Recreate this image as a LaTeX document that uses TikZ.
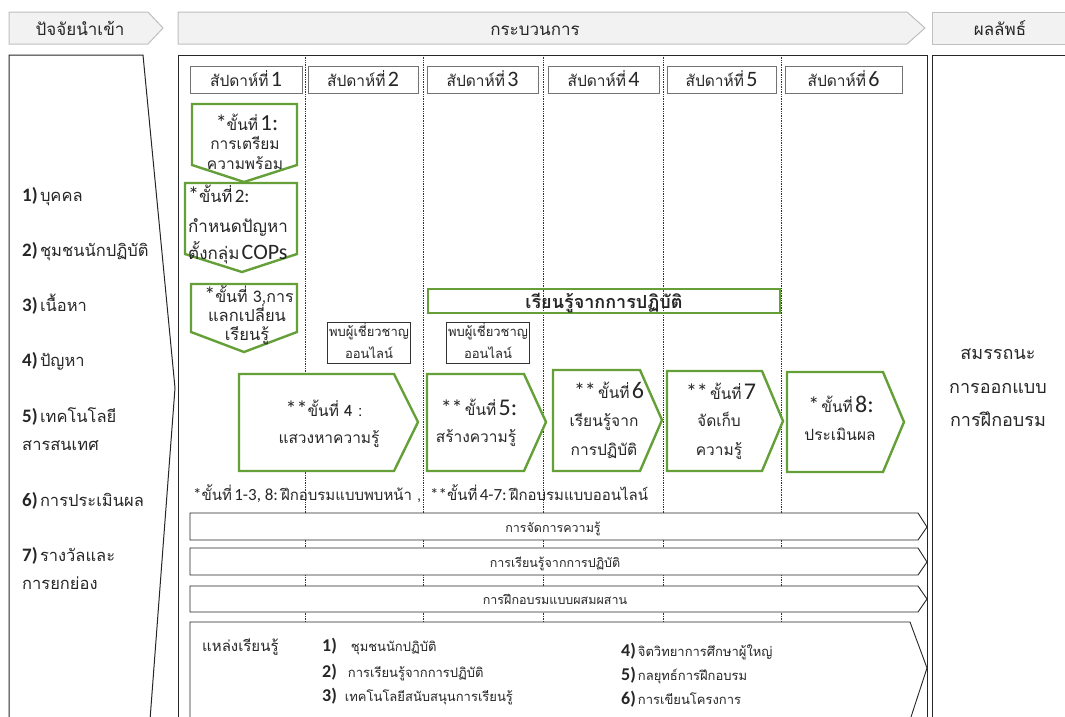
\documentclass[tikz,border=0pt]{standalone}
\usepackage{fontspec}
\setmainfont{Carlito}
\newfontfamily\thaifont[Script=Thai]{Loma}
\newcommand\tth[2]{{\thaifont\fontsize{#1}{#1}\selectfont #2}}
\newcommand\tthb[2]{{\thaifont\bfseries\fontsize{#1}{#1}\selectfont #2}}
\newcommand\lat[2]{{\fontsize{#1}{#1}\selectfont #2}}
\newcommand\latb[2]{{\bfseries\fontsize{#1}{#1}\selectfont #2}}
\definecolor{stepgreen}{RGB}{100,160,55}
\definecolor{hdrfill}{RGB}{242,242,242}
\definecolor{hdrline}{RGB}{191,191,191}
\definecolor{inktext}{RGB}{38,38,38}
\begin{document}
\begin{tikzpicture}[x=1pt,y=-1pt,
  hdr/.style={fill=hdrfill,draw=hdrline,line width=1pt},
  panel/.style={draw=black!85,line width=1pt},
  weekbox/.style={draw=black!55,line width=1pt,fill=white,inner sep=0pt,minimum width=#1pt,minimum height=27pt},
  stepbox/.style={draw=stepgreen,line width=2.4pt,fill=white,line join=miter},
  sep/.style={densely dotted,black!80,line width=0.7pt},
  bar/.style={draw=black!85,line width=0.9pt,fill=white},
  smallbox/.style={draw=black!80,line width=0.9pt,fill=white,inner sep=0pt,minimum width=83pt,minimum height=41pt},
  txt/.style={inner sep=0pt,anchor=base,text=inktext},
  txtw/.style={inner sep=0pt,anchor=base west,text=inktext}]
\useasboundingbox (0,0) rectangle (1065,716);
\clip (0,0) rectangle (1065,716);

% column headers
\path[hdr] (9,12) -- (148,12) -- (163,28) -- (148,44) -- (9,44) -- cycle;
\path[hdr] (178,12) -- (907,12) -- (925,28) -- (907,44) -- (178,44) -- cycle;
\path[hdr] (932,12) rectangle (1075,44);
\node[txt] (hin) at (80,35) {\tth{17}{ปัจจัยนำเข้า}};
\node[txt] (hproc) at (535,35) {\tth{17}{กระบวนการ}};
\node[txt] (hout) at (1000,35) {\tth{17}{ผลลัพธ์}};

% panels
\draw[panel] (9,720) -- (9,55) -- (143,55) -- (175,388) -- (150,720);
\draw[panel] (178,720) -- (178,55) -- (927,55) -- (927,720);
\draw[panel] (932,720) -- (932,55) -- (1075,55);

% week separators
\foreach \x in {305,423,543,663,781} \draw[sep] (\x,55) -- (\x,716);

% inputs
\node[txtw] (in1) at (22,201) {\latb{19}{1)} \tth{16.5}{บุคคล}};
\node[txtw] (in2) at (22,256) {\latb{19}{2)} \tth{16.5}{ชุมชนนักปฏิบัติ}};
\node[txtw] (in3) at (22,311) {\latb{19}{3)} \tth{16.5}{เนื้อหา}};
\node[txtw] (in4) at (22,366) {\latb{19}{4)} \tth{16.5}{ปัญหา}};
\node[txtw] (in5) at (22,422) {\latb{19}{5)} \tth{16.5}{เทคโนโลยี}};
\node[txtw] (in5b) at (22,450) {\tth{16.5}{สารสนเทศ}};
\node[txtw] (in6) at (22,506) {\latb{19}{6)} \tth{16.5}{การประเมินผล}};
\node[txtw] (in7) at (22,561) {\latb{19}{7)} \tth{16.5}{รางวัลและ}};
\node[txtw] (in7b) at (22,589) {\tth{16.5}{การยกย่อง}};

% weeks
\node[weekbox=112] (w1) at (246,79.5) {};
\node[weekbox=110] (w2) at (363,79.5) {};
\node[weekbox=111] (w3) at (482.5,79.5) {};
\node[weekbox=111] (w4) at (603.5,79.5) {};
\node[weekbox=109] (w5) at (721.5,79.5) {};
\node[weekbox=117] (w6) at (843.5,79.5) {};
\foreach \n/\x in {1/246,2/363,3/482.5,4/603.5,5/721.5,6/843.5}
  \node[txt] (w\n t) at (\x,86.5) {\tth{15.5}{สัปดาห์ที่} \lat{22}{\n}};

% steps 1-3 (face to face)
\draw[stepbox] (192,104) -- (297,104) -- (297,165) -- (244,182) -- (192,165) -- cycle;
\draw[stepbox] (185,183) -- (297,183) -- (297,254) -- (242,272) -- (185,254) -- cycle;
\draw[stepbox] (191,284) -- (297,284) -- (297,332) -- (244,352) -- (191,332) -- cycle;
\node[txt] (s1a) at (247,130) {\lat{22}{*}\tth{15.5}{ขั้นที่} \lat{23}{1:}};
\node[txt] (s1b) at (245,149) {\tth{15.5}{การเตรียม}};
\node[txt] (s1c) at (245,169) {\tth{15.5}{ความพร้อม}};
\node[txtw] (s2a) at (188,202) {\lat{22}{*}\tth{16.5}{ขั้นที่} \lat{19}{2:}};
\node[txtw] (s2b) at (188,232) {\tth{17}{กำหนดปัญหา}};
\node[txtw] (s2c) at (188,259) {\tth{17}{ตั้งกลุ่ม} \lat{22}{COPs}};
\node[txt] (s3a) at (249,302) {\lat{22}{*}\tth{16}{ขั้นที่ 3,การ}};
\node[txt] (s3b) at (247,321) {\tth{16.5}{แลกเปลี่ยน}};
\node[txt] (s3c) at (247,340) {\tth{16.5}{เรียนรู้}};

% practice band and expert meetings
\draw[draw=stepgreen,line width=2pt] (428,289) rectangle (780,313);
\node[txt] (prac) at (604,308) {\tthb{18}{เรียนรู้จากการปฏิบัติ}};
\node[smallbox] (exp1) at (369,343) {};
\node[smallbox] (exp2) at (488,343) {};
\foreach \e in {1,2} {
  \node[txt] (exp\e a) at ([yshift=7]exp\e.center) {\tth{13}{พบผู้เชี่ยวชาญ}};
  \node[txt] (exp\e b) at ([yshift=-15]exp\e.center) {\tth{13}{ออนไลน์}};
}

% steps 4-8
\draw[stepbox] (239,374) -- (394,374) -- (418,422) -- (394,471) -- (239,471) -- cycle;
\draw[stepbox] (427,374) -- (524,374) -- (546,422) -- (524,471) -- (427,471) -- cycle;
\draw[stepbox] (553,370) -- (640,370) -- (662,420) -- (640,471) -- (553,471) -- cycle;
\draw[stepbox] (667,371) -- (762,371) -- (783,421) -- (762,471) -- (667,471) -- cycle;
\draw[stepbox] (787,372) -- (883,372) -- (904,422) -- (883,472) -- (787,472) -- cycle;
\node[txt] (s4a) at (324,416) {\lat{22}{**}\tth{15.5}{ขั้นที่ 4 :}};
\node[txt] (s4b) at (329,443) {\tth{15.5}{แสวงหาความรู้}};
\node[txt] (s5a) at (479,415) {\lat{22}{**} \tth{15.5}{ขั้นที่} \lat{24}{5:}};
\node[txt] (s5b) at (476,442) {\tth{15.5}{สร้างความรู้}};
\node[txt] (s6a) at (609,398) {\lat{22}{**} \tth{15.5}{ขั้นที่} \lat{24}{6}};
\node[txt] (s6b) at (604,426) {\tth{15.5}{เรียนรู้จาก}};
\node[txt] (s6c) at (604,455) {\tth{15.5}{การปฏิบัติ}};
\node[txt] (s7a) at (721,399) {\lat{22}{**} \tth{15.5}{ขั้นที่} \lat{24}{7}};
\node[txt] (s7b) at (719,426) {\tth{15.5}{จัดเก็บ}};
\node[txt] (s7c) at (719,455) {\tth{15.5}{ความรู้}};
\node[txt] (s8a) at (841,412) {\lat{22}{*} \tth{15.5}{ขั้นที่} \lat{24}{8:}};
\node[txt] (s8b) at (840,440) {\tth{15.5}{ประเมินผล}};

% footnote
\node[txtw] (fn1) at (193,500) {\lat{17}{*}\tth{15}{ขั้นที่} \lat{17}{1-3, 8:} \tth{15}{ฝึกอบรมแบบพบหน้า ,}};
\node[txtw] (fn2) at (430,500) {\lat{17}{**}\tth{15}{ขั้นที่} \lat{17}{4-7:} \tth{15}{ฝึกอบรมแบบออนไลน์}};

% continuous strands
\draw[bar] (190,513) -- (918,513) -- (927,527) -- (918,540) -- (190,540) -- cycle;
\draw[bar] (190,548) -- (918,548) -- (927,562) -- (918,575) -- (190,575) -- cycle;
\draw[bar] (190,586) -- (918,586) -- (927,599) -- (918,612) -- (190,612) -- cycle;
\node[txt] (km) at (553,532) {\tth{12.5}{การจัดการความรู้}};
\node[txt] (lp) at (555,567) {\tth{12.5}{การเรียนรู้จากการปฏิบัติ}};
\node[txt] (bl) at (555,604) {\tth{12.5}{การฝึกอบรมแบบผสมผสาน}};

% learning resources
\draw[bar] (190,720) -- (190,622) -- (910,622) -- (927,668) -- (910,720);
\node[txtw] (lr) at (202,651) {\tth{15}{แหล่งเรียนรู้}};
\node[txtw] (lr1) at (322,651) {\latb{18}{1)}\hspace{14pt}\tth{13}{ชุมชนนักปฏิบัติ}};
\node[txtw] (lr2) at (322,677) {\latb{18}{2)}\hspace{11pt}\tth{13}{การเรียนรู้จากการปฏิบัติ}};
\node[txtw] (lr3) at (322,701) {\latb{18}{3)}\hspace{8pt}\tth{13}{เทคโนโลยีสนับสนุนการเรียนรู้}};
\node[txtw] (lr4) at (621,656) {\latb{18}{4)}\hspace{2pt}\tth{13}{จิตวิทยาการศึกษาผู้ใหญ่}};
\node[txtw] (lr5) at (621,680) {\latb{18}{5)}\hspace{2pt}\tth{13}{กลยุทธ์การฝึกอบรม}};
\node[txtw] (lr6) at (621,704) {\latb{18}{6)}\hspace{2pt}\tth{13}{การเขียนโครงการ}};

% outcome
\node[txt] (o1) at (998,359) {\tth{18}{สมรรถนะ}};
\node[txt] (o2) at (998,393) {\tth{18}{การออกแบบ}};
\node[txt] (o3) at (998,426) {\tth{18}{การฝึกอบรม}};
\end{tikzpicture}
\end{document}
